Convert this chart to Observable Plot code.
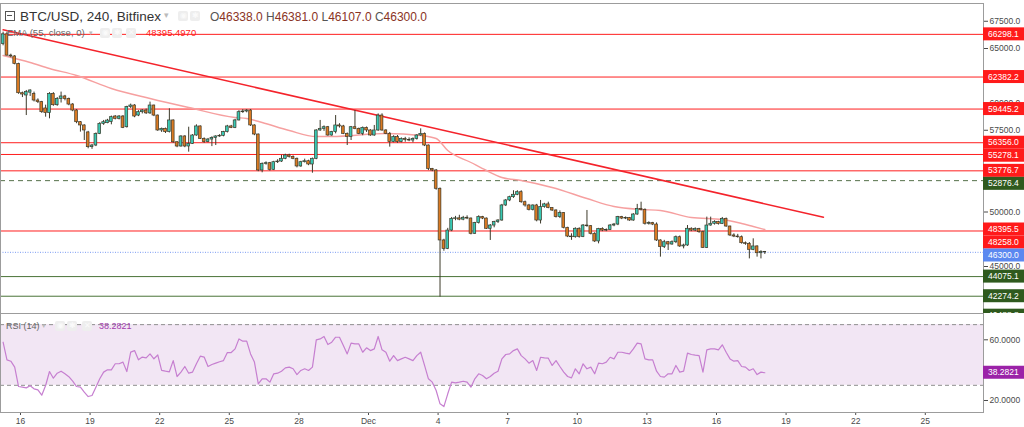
<!DOCTYPE html>
<html><head><meta charset="utf-8">
<script src="https://cdn.jsdelivr.net/npm/d3@7"></script>
<script src="https://cdn.jsdelivr.net/npm/@observablehq/plot@0.6"></script>
<style>
html,body{margin:0;padding:0;background:#fff;}
#wrap{position:relative;width:1024px;height:427px;overflow:hidden;font-family:"Liberation Sans",Arial,sans-serif;}
#price,#rsi{position:absolute;left:0;}
#price{top:0;} #rsi{top:313px;}
.ov{position:absolute;white-space:nowrap;line-height:1;}
.ico{position:absolute;width:10px;height:10px;background:#eeeeee;border-radius:2px;color:#fafafa;font-size:8px;text-align:center;line-height:10px;}
</style></head><body>
<div id="wrap">
  <div id="price"></div>
  <div id="rsi"></div>
  <div class="ov" style="left:5px;top:11px;width:8px;height:8px;border:1px solid #555;"></div>
  <div class="ov" style="left:7px;top:15px;width:5px;height:1px;background:#555;"></div>
  <div class="ov" style="left:20px;top:10px;font-size:13.5px;color:#333;">BTC/USD, 240, Bitfinex</div>
  <div class="ov" style="left:164px;top:11px;font-size:9px;color:#bbb;">▾</div>
  <div class="ico" style="left:178px;top:11px;">◉</div>
  <div class="ico" style="left:190px;top:11px;">✱</div>
  <div id="ohlc" class="ov" style="left:210px;top:10.5px;font-size:12px;color:#444;"></div>
  <div class="ov" style="left:7px;top:28px;font-size:9.5px;color:#666;">EMA (55, close, 0)</div>
  <div class="ov" style="left:89px;top:29px;font-size:7px;color:#bbb;">▾</div>
  <div class="ico" style="left:100px;top:28px;">◉</div>
  <div class="ico" style="left:112px;top:28px;">✱</div>
  <div class="ico" style="left:126px;top:28px;">✕</div>
  <div id="emaVal" class="ov" style="left:146px;top:28px;font-size:9.5px;color:#ff1a1a;"></div>
  <div class="ov" style="left:6px;top:321.5px;font-size:9px;color:#666;">RSI (14)</div>
  <div class="ov" style="left:42px;top:322px;font-size:7px;color:#bbb;">▾</div>
  <div class="ico" style="left:55px;top:321px;">◉</div>
  <div class="ico" style="left:67px;top:321px;">✱</div>
  <div class="ico" style="left:82px;top:321px;">✕</div>
  <div id="rsiVal" class="ov" style="left:99px;top:321.5px;font-size:9px;color:#a23aae;"></div>
</div>
<script>
// ---------------- DATA ----------------
const firstCandle = "2021-11-15T06:00:00Z"; // 4-hour candles
const stepHours = 4;
const opens = [65400,66300,64350,64270,63590,60900,60690,60950,60840,60230,
 60080,59500,59070,60840,59800,60380,60600,60380,59860,59310,
 58240,57940,57300,55950,56100,57170,58090,58150,58250,58760,
 58550,58760,57780,59620,59770,58850,59160,59310,59050,59770,
 58850,57480,57630,57330,58400,56400,56010,56930,56010,56250,
 57020,57850,56710,56410,56650,56800,56930,56990,57330,57850,
 57720,58400,59160,59220,59310,57940,57110,53810,54420,54480,
 53870,54570,54630,54880,55190,55050,54880,54180,54570,54660,
 54360,54880,57480,57630,57780,57020,57330,57940,57850,57170,
 56870,57780,57630,57170,57720,57480,57020,57480,58850,57480,
 57170,56410,56870,56410,56710,56620,56560,56710,57020,57170,
 56100,53960,53810,52130,47390,46620,48300,49370,49420,49300,
 49470,49400,48000,48980,49530,49400,48460,48760,49070,49220,
 50600,51060,51360,51580,51820,50900,50600,50200,50600,49220,
 50450,50700,50370,50140,49530,49900,48550,47750,47690,48460,
 47700,48760,48700,48000,47300,48450,48300,48360,48760,48850,
 49530,49400,49450,49220,49770,50290,50200,48920,48980,48850,
 47390,46780,47230,47020,47230,47690,46840,46930,48460,48300,
 48430,48150,46710,48760,48920,49070,48900,49370,48670,47850,
 47750,47690,47140,47080,46530,46840,46220,46338];
const highs = [66500,66500,64480,64350,63650,61000,61150,61210,61000,60380,
 60150,59800,60950,60950,60500,61000,60700,60450,59950,59400,
 58300,58000,57400,56200,57250,58200,58400,58500,58800,58850,
 58850,58850,59700,59900,59850,59300,59400,59450,60080,59800,
 58900,57700,57700,59470,58450,56450,57000,57000,57780,57100,
 58000,57900,56800,56750,56900,57000,57100,57400,57950,57950,
 58500,59300,59400,59400,59400,58000,57150,54500,54600,54550,
 54650,54800,55200,55300,55300,55150,54950,54650,54850,54750,
 54950,57550,58400,57900,57850,57400,58850,58100,57950,57250,
 57850,59310,57700,57800,57800,57550,57940,59000,59010,57550,
 57300,57000,57020,56800,56850,56800,56800,57100,57630,57250,
 56150,54000,53900,52200,47500,48500,49500,49600,49700,49600,
 49650,49450,49050,49650,49600,49450,48850,49150,49300,50700,
 51150,51450,51950,51950,51950,51000,50700,50650,50700,51060,
 50800,50900,50400,50200,50100,49950,48600,48000,48550,48550,
 48850,50140,48750,48100,48500,48550,48450,48850,48950,49600,
 49600,49550,49500,49850,50700,50900,50290,49100,49050,49000,
 47450,47400,47300,47350,47800,47800,47050,48760,48550,48550,
 48500,48250,49530,49530,49200,49150,49500,49450,48700,48000,
 47950,47800,47250,47200,47540,46900,46450,46381];
const lows = [65250,64300,64150,63500,60800,60500,58850,60600,60100,59950,
 59050,58700,58550,59700,59700,60000,60200,59750,59200,58100,
 57330,56560,55800,55750,56000,57100,57950,58100,58000,58450,
 58450,57650,57700,59500,58650,58750,59000,58950,58950,58750,
 57400,57300,57200,57250,56300,55900,55950,55900,55490,56200,
 56950,56650,56300,56350,56000,56100,56850,56900,57250,57650,
 57650,58350,59050,59100,57850,57000,53700,53600,54300,53750,
 53800,54450,54550,54800,54950,54800,54050,54100,54500,54250,
 53560,54800,57400,57400,56950,56950,57170,57700,57100,56100,
 56560,57550,57100,57000,57300,56950,56950,57400,57400,57100,
 55950,56350,56300,56350,56400,56450,56350,56600,56950,56000,
 53800,53700,52000,42190,46400,46550,48200,49200,49200,49200,
 49300,47900,47950,48900,49300,48400,47390,48550,48950,49150,
 50500,50950,51250,51500,50800,50450,50100,50100,49100,48900,
 50350,50300,50050,49450,49400,48450,47650,47400,47600,47600,
 47650,48600,47900,47200,47080,48200,48200,48300,48650,48750,
 49300,49300,49150,49150,49700,50100,48800,48800,48750,47300,
 45860,46650,46470,46950,47100,46750,46620,46850,48200,48200,
 48050,46650,46650,48700,48800,48800,48850,48600,47750,47650,
 47600,47050,46950,45700,46450,45860,45700,46107];
const closes = [66300,64350,64270,63590,60900,60780,61000,61150,60230,60080,
 59160,59070,60840,59800,60380,60600,60380,59860,59310,58240,
 57940,57480,55950,56100,57170,58090,58240,58390,58700,58550,
 58760,57720,59620,59770,58760,59160,59310,59050,59770,58850,
 57480,57630,57330,58400,56400,56010,56930,56010,56250,57020,
 57850,56710,56410,56650,56800,56930,56990,57330,57850,57720,
 58400,59160,59220,59310,57940,57110,53810,54420,54480,53870,
 54570,54630,54880,55190,55050,54880,54180,54570,54660,54360,
 54880,57480,57630,57780,57020,57330,57940,57850,57170,56870,
 57780,57630,57170,57720,57480,57020,57480,58850,57480,57170,
 56410,56870,56410,56710,56620,56560,56710,57020,57170,56100,
 53960,53810,52130,47390,46620,48300,49370,49420,49300,49470,
 49400,48000,48980,49530,49400,48460,48760,49070,49220,50600,
 51060,51360,51580,51820,50900,50600,50200,50600,49220,50450,
 50700,50370,50140,49530,49900,48550,47750,47690,48460,47700,
 48760,48700,48000,47300,48450,48300,48360,48760,48850,49530,
 49400,49450,49220,49770,50290,50200,48920,48980,48850,47390,
 46780,47230,47020,47230,47690,46840,46930,48460,48300,48430,
 48150,46710,48760,48920,49070,48900,49370,48670,47850,47750,
 47690,47140,47080,46530,46840,46220,46338,46300];
const rsiValues = [58.4,46.8,45.9,42.0,29.2,28.8,28.3,29.7,27.7,27.0,
 23.5,29.9,39.1,34.7,38.0,39.3,37.6,35.7,32.7,29.2,
 28.8,25.5,22.6,23.3,28.8,34.3,38.7,40.2,40.2,44.2,
 44.2,45.3,39.1,51.9,52.9,46.8,48.6,48.1,50.7,47.5,
 50.0,39.8,39.3,38.9,46.3,35.8,38.7,42.4,38.0,38.7,
 44.2,49.2,48.6,42.4,43.7,44.6,45.5,46.3,51.6,51.6,
 54.0,60.6,59.1,59.1,50.7,45.3,31.0,34.3,34.3,32.1,
 37.6,38.0,39.3,41.5,42.0,40.9,37.1,39.8,40.9,39.8,
 42.0,60.0,60.6,62.2,56.9,58.4,61.7,61.7,56.2,50.7,
 57.8,57.3,57.3,51.8,54.7,52.9,54.0,62.2,53.4,51.8,
 45.9,49.6,46.3,47.4,48.5,47.4,46.3,49.6,51.8,43.1,
 34.3,32.1,26.6,17.8,16.0,24.4,32.1,31.6,32.1,32.7,
 32.1,28.8,34.3,37.6,36.5,34.3,35.8,38.0,39.3,47.4,
 50.3,50.7,52.9,54.0,49.6,47.4,44.6,46.3,39.8,48.5,
 48.1,47.9,43.1,46.3,42.4,38.7,35.8,34.9,40.9,37.6,
 44.2,40.9,42.0,37.6,44.6,44.2,45.3,48.5,47.4,51.8,
 51.8,51.2,50.7,54.0,57.8,57.3,47.4,46.8,46.8,39.3,
 35.8,35.4,37.6,37.6,43.1,38.7,39.3,51.2,50.3,49.9,
 49.6,38.7,53.4,54.0,54.0,53.4,56.7,51.8,47.4,45.9,
 46.3,42.4,42.0,39.8,40.9,37.1,38.7,38.2821];
// EMA(55) read at sample candles (candle number, value)
const emaCandle = [0,7,12,19,28,38,48,60,63,67,74,81,85,99,108,112,115,121,125,129,134,142,151,158,165,170,178,186,191,194,197];
const emaValue = [64360,63716,63166,62523,61331,60413,59588,58670,58579,58212,57478,56927,56927,57202,57019,56744,55643,54542,53808,53166,52891,52248,51239,50505,50230,50139,49497,49313,48946,48671,48395.5];
// descending trendline
const trendDates = ["2021-11-15T06:00:00Z", "2021-12-20T14:40:00Z"];
const trendValues = [66716, 49524];
// horizontal levels
const redLevels = [66298.1, 62382.2, 59445.2, 56356.0, 55278.1, 53776.7, 48258.0];
const dashedLevels = [52876.4];
const lastPrice = [46300.0];
const greenLevels = [44075.1, 42274.2, 40488.8];
const emaLast = 48395.4970;
// axes
const priceTicks = [42500,45000,47500,50000,52500,55000,57500,60000,62500,65000,67500];
const rsiTicks = [20,40,60];
const rsiBand = [30,70];
const xTickDates = ["2021-11-16","2021-11-19","2021-11-22","2021-11-25","2021-11-28","2021-12-01","2021-12-04","2021-12-07","2021-12-10","2021-12-13","2021-12-16","2021-12-19","2021-12-22","2021-12-25"];
const xTickLabels = ["16","19","22","25","28","Dec","4","7","10","13","16","19","22","25"];
const ohlcLast = {O: 46338.0, H: 46381.0, L: 46107.0, C: 46300.0};

// ---------------- BUILD ----------------
const t0 = new Date(firstCandle).getTime();
const H = 3600e3;
const candles = opens.map((o, i) => ({t: new Date(t0 + i * stepHours * H), o, h: highs[i], l: lows[i], c: closes[i]}));
const rsiRows = rsiValues.map((r, i) => ({t: candles[i].t, r}));
const emaRows = emaCandle.map((k, i) => ({t: candles[k].t, v: emaValue[i]}));
const trendRows = trendDates.map((d, i) => ({t: new Date(d), v: trendValues[i]}));
const xDomain = [new Date("2021-11-15T03:19:00Z"), new Date("2021-12-27T12:13:00Z")];
const tickDates = xTickDates.map(d => new Date(d + "T00:00:00Z"));
const tickLabel = new Map(tickDates.map((d, i) => [+d, xTickLabels[i]]));

const FONT = "Liberation Sans, Arial, sans-serif";
const bull = "#38c9b4", bear = "#db7a22", edge = "#3d3a2a";
const W = 1024, MR = 41;

const priceChart = Plot.plot({
  width: W, height: 313, marginTop: 3, marginBottom: 0, marginLeft: 0, marginRight: MR,
  style: {fontFamily: FONT, fontSize: "8.5px", color: "#4a4a4a", background: "#fff"},
  x: {type: "utc", domain: xDomain, axis: null},
  y: {domain: [40689, 69129], axis: null},
  marks: [
    Plot.ruleY(greenLevels, {stroke: "#4a7338", strokeWidth: 1}),
    Plot.ruleY(dashedLevels, {stroke: "#56704a", strokeWidth: 1, strokeDasharray: "5,4"}),
    Plot.ruleY(lastPrice, {stroke: "#7c9cf2", strokeWidth: 1, strokeDasharray: "1,1.5"}),
    Plot.ruleY(redLevels, {stroke: "#ff1e1e", strokeWidth: 1}),
    Plot.line(emaRows, {x: "t", y: "v", stroke: "#f6a0a0", strokeWidth: 1.4, curve: "monotone-x"}),
    Plot.line(trendRows, {x: "t", y: "v", stroke: "#f4232b", strokeWidth: 1.5}),
    Plot.ruleX(candles, {x: "t", y1: "l", y2: "h", stroke: edge, strokeWidth: 1}),
    Plot.rect(candles, {
      x1: d => new Date(+d.t - 85 * 60e3), x2: d => new Date(+d.t + 85 * 60e3),
      y1: "o", y2: "c", fill: d => d.c >= d.o ? bull : bear, stroke: edge, strokeWidth: 0.7
    }),
    Plot.axisY(priceTicks, {anchor: "right", label: null, tickFormat: d => d.toFixed(1), tickSize: 4, tickPadding: 2, fontSize: 8.5}),
    Plot.frame({stroke: "#9c9c9c"})
  ]
});
document.getElementById("price").append(priceChart);

const rsiChart = Plot.plot({
  width: W, height: 114, marginTop: 0, marginBottom: 15, marginLeft: 0, marginRight: MR,
  style: {fontFamily: FONT, fontSize: "8.5px", color: "#4a4a4a", background: "#fff"},
  x: {type: "utc", domain: xDomain, label: null},
  y: {domain: [12.08, 77.34], label: null},
  marks: [
    Plot.rect([rsiBand], {x1: () => xDomain[0], x2: () => xDomain[1], y1: d => d[0], y2: d => d[1], fill: "#f2e6f4"}),
    Plot.ruleY(rsiBand, {stroke: "#8f8f8f", strokeWidth: 1, strokeDasharray: "4,3"}),
    Plot.line(rsiRows, {x: "t", y: "r", stroke: "#c67fd0", strokeWidth: 1.2}),
    Plot.axisX(tickDates, {anchor: "bottom", label: null, tickFormat: d => tickLabel.get(+d), tickSize: 3, tickPadding: 2, fontSize: 8.5}),
    Plot.axisY(rsiTicks, {anchor: "right", label: null, tickFormat: d => d.toFixed(4), tickSize: 4, tickPadding: 2, fontSize: 8.5}),
    Plot.frame({stroke: "#9c9c9c"})
  ]
});
document.getElementById("rsi").append(rsiChart);

// price-scale value tags (positions from the library's y scale)
function tags(chart, items) {
  const sy = chart.scale("y");
  const rows = items.map(d => ({...d, py: sy.apply(d.value)})).sort((a, b) => a.py - b.py);
  for (let k = 1; k < rows.length; k++) rows[k].py = Math.max(rows[k].py, rows[k - 1].py + 13);
  const g = d3.select(chart).append("g").attr("font-family", FONT).attr("font-size", "8.5px").attr("text-anchor", "start");
  const x0 = W - MR;
  rows.forEach(r => {
    g.append("rect").attr("x", x0).attr("y", r.py - 6.5).attr("width", MR).attr("height", 13).attr("fill", r.color);
    g.append("text").attr("x", x0 + 5).attr("y", r.py).attr("dy", "0.36em").attr("text-anchor", "start").attr("fill", "#fff").text(r.text);
  });
}
const priceTags = [
  ...redLevels.map(v => ({value: v, text: v.toFixed(1), color: "#ff1a1a"})),
  {value: emaLast, text: emaLast.toFixed(1), color: "#ff1a1a"},
  ...dashedLevels.map(v => ({value: v, text: v.toFixed(1), color: "#2f5a1e"})),
  ...lastPrice.map(v => ({value: v, text: v.toFixed(1), color: "#5b88f0"})),
  ...greenLevels.map(v => ({value: v, text: v.toFixed(1), color: "#2f5a1e"}))
];
tags(priceChart, priceTags);
const lastRsi = rsiValues[rsiValues.length - 1];
tags(rsiChart, [{value: lastRsi, text: lastRsi.toFixed(4), color: "#9b22a8"}]);

// legends
const ohlc = document.getElementById("ohlc");
ohlc.innerHTML = Object.entries(ohlcLast).map(([k, v]) =>
  `<span style="color:#555">${k}</span><span style="color:#8a3324">${v.toFixed(1)}</span>`).join("&nbsp;");
document.getElementById("emaVal").textContent = emaLast.toFixed(4);
document.getElementById("rsiVal").textContent = lastRsi.toFixed(4);
</script>
</body></html>
